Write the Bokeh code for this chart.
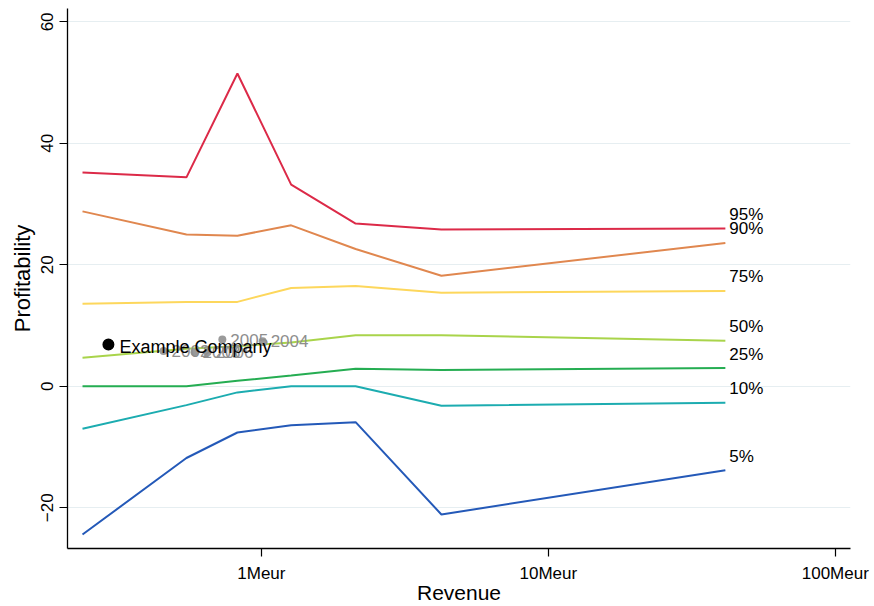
from bokeh.plotting import figure
from bokeh.models import Range1d, FixedTicker, ColumnDataSource
from bokeh.embed import file_html
from bokeh.resources import INLINE
from bokeh.core.properties import value

# Revenue bin centres (Meur) and profitability percentiles per bin
revenue_bins = [0.238, 0.548, 0.825, 1.27, 2.13, 4.24, 41.4]
p95 = [35.2, 34.4, 51.5, 33.2, 26.8, 25.8, 26.0]
p90 = [28.8, 25.0, 24.8, 26.5, 22.6, 18.2, 23.6]
p75 = [13.6, 13.9, 13.9, 16.2, 16.5, 15.4, 15.7]
p50 = [4.7, 6.2, 6.6, 7.2, 8.4, 8.4, 7.5]
p25 = [0.0, 0.0, 0.9, 1.8, 2.9, 2.7, 3.0]
p10 = [-7.0, -3.1, -1.0, 0.0, 0.0, -3.2, -2.7]
p05 = [-24.4, -11.8, -7.6, -6.4, -5.9, -21.1, -13.8]

percentile_labels = ["95%", "90%", "75%", "50%", "25%", "10%", "5%"]
percentile_series = [p95, p90, p75, p50, p25, p10, p05]
percentile_colors = ["#dc2a48", "#e0874f", "#fdd75c", "#a9d44b", "#25ad52", "#1cacb0", "#2459b8"]

# Company history by year
years = ["2002", "2003", "2006", "2005", "2004"]
year_revenue = [0.456, 0.585, 0.649, 0.731, 1.01]
year_profit = [5.8, 5.6, 5.6, 7.7, 7.4]

company_name = ["Example Company"]
company_revenue = [0.293]
company_profit = [6.9]

x_ticks = [1, 10, 100]
x_tick_labels = ["1Meur", "10Meur", "100Meur"]
y_ticks = [-20, 0, 20, 40, 60]

FONT = "Liberation Sans"

p = figure(width=874, height=606, x_axis_type="log",
           x_range=Range1d(0.211, 113), y_range=Range1d(-26.7, 62.2),
           output_backend="svg", toolbar_location=None,
           min_border_left=67, min_border_right=24,
           min_border_top=8, min_border_bottom=58)
p.outline_line_color = None
p.background_fill_color = "white"
p.border_fill_color = "white"

# axes
p.xaxis.ticker = FixedTicker(ticks=x_ticks)
p.xaxis.major_label_overrides = {t: lab for t, lab in zip(x_ticks, x_tick_labels)}
p.yaxis.ticker = FixedTicker(ticks=y_ticks)
for ax in (p.xaxis[0], p.yaxis[0]):
    ax.axis_line_color = "black"
    ax.axis_line_width = 1.3
    ax.major_tick_line_color = "black"
    ax.major_tick_line_width = 1.2
    ax.major_tick_out = 8
    ax.major_tick_in = 0
    ax.minor_tick_line_color = None
    ax.major_label_text_font = FONT
    ax.major_label_text_font_size = "17px"
    ax.major_label_text_color = "black"
    ax.axis_label_text_font = FONT
    ax.axis_label_text_font_size = "21px"
    ax.axis_label_text_font_style = "normal"
    ax.axis_label_text_color = "black"
p.yaxis.axis_label_text_font_size = "22px"
p.xaxis.axis_label = "Revenue"
p.yaxis.axis_label = "Profitability"
p.yaxis.major_label_orientation = "vertical"
p.xaxis.major_label_standoff = 7
p.yaxis.major_label_standoff = 6
p.xaxis.axis_label_standoff = -5
p.yaxis.axis_label_standoff = 4

p.xgrid.grid_line_color = None
p.ygrid.ticker = FixedTicker(ticks=y_ticks)
p.ygrid.grid_line_color = "#e6eef1"
p.ygrid.grid_line_width = 1.2

# percentile lines with end labels
for lab, ys, col in zip(percentile_labels, percentile_series, percentile_colors):
    p.line(revenue_bins, ys, line_color=col, line_width=2)
    p.text(x=[revenue_bins[-1]], y=[ys[-1]], text=[lab],
           text_font=value(FONT), text_font_size="17px", text_color="black",
           text_align="left", text_baseline="middle", x_offset=4, y_offset=-14)

# yearly history of the company
ysrc = ColumnDataSource(dict(x=year_revenue, y=year_profit, t=years))
p.scatter("x", "y", source=ysrc, size=8, fill_color="#9a9a9a", line_color=None)
p.text("x", "y", text="t", source=ysrc, text_font=value(FONT), text_font_size="17px",
       text_color="#8e8e8e", text_align="left", text_baseline="middle", x_offset=8)

# current position of the company
csrc = ColumnDataSource(dict(x=company_revenue, y=company_profit, t=company_name))
p.scatter("x", "y", source=csrc, size=12, fill_color="black", line_color=None)
p.text("x", "y", text="t", source=csrc, text_font=value(FONT), text_font_size="18px",
       text_color="black", text_align="left", text_baseline="middle",
       x_offset=11, y_offset=3)

open("out.html", "w").write(file_html(p, INLINE))
